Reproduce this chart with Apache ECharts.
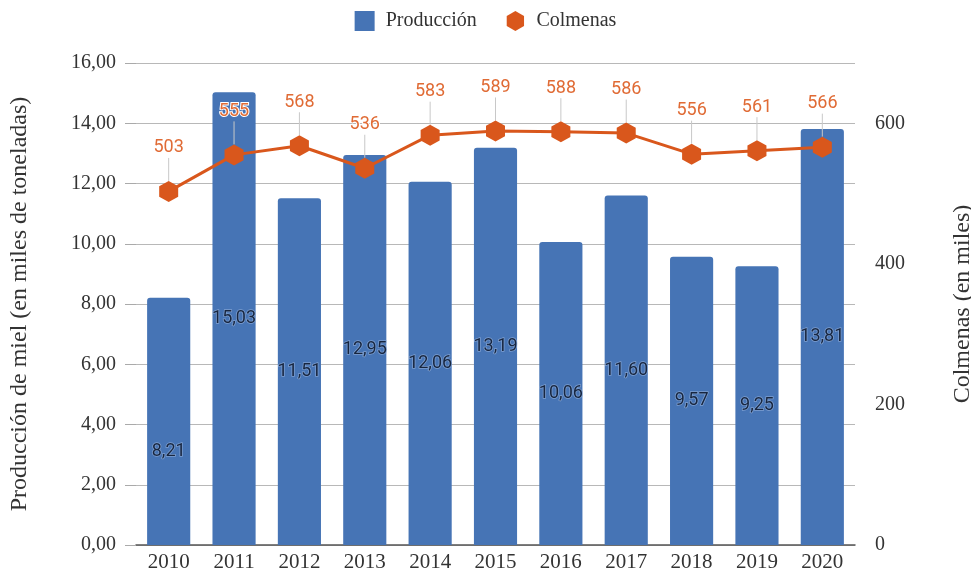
<!DOCTYPE html>
<html>
<head>
<meta charset="utf-8">
<script src="https://cdn.jsdelivr.net/npm/echarts@6/dist/echarts.min.js"></script>
<style>
  html, body { margin: 0; padding: 0; background: #fff; }
  #chart { width: 971px; height: 581px; }
</style>
</head>
<body>
<div id="chart"></div>
<script>
// Honey production (thousand tonnes) and beehives (thousands), 2010–2020
const years = ['2010', '2011', '2012', '2013', '2014', '2015', '2016', '2017', '2018', '2019', '2020'];
const produccion = [8.21, 15.03, 11.51, 12.95, 12.06, 13.19, 10.06, 11.60, 9.57, 9.25, 13.81];
const colmenas = [503, 555, 568, 536, 583, 589, 588, 586, 556, 561, 566];

const BLUE = '#4674b5';
const ORANGE = '#d9571c';
const SERIF = '"Liberation Serif", "DejaVu Serif", serif';
const SANS = 'Roboto, "Noto Sans", sans-serif';
const HEX = 'path://M50,0 L93.3,25 L93.3,75 L50,100 L6.7,75 L6.7,25 Z';

const fmt = v => v.toFixed(2).replace('.', ',');

const barData = produccion.map((v, i) => {
  const item = { value: v };
  if (i === 0) item.label = { offset: [0, 30] };
  return item;
});

const chart = echarts.init(document.getElementById('chart'));
chart.setOption({
  animation: false,
  textStyle: { fontFamily: SERIF },
  legend: {
    top: 6,
    left: 'center',
    itemGap: 30,
    itemWidth: 20,
    itemHeight: 20,
    textStyle: { fontFamily: SERIF, fontSize: 20, color: '#333', padding: [0, 0, 0, 6] },
    data: [
      { name: 'Producción', icon: 'rect' },
      { name: 'Colmenas', icon: HEX }
    ]
  },
  grid: { left: 136, right: 116, top: 63, bottom: 36, outerBoundsMode: 'none', containLabel: false },
  xAxis: {
    type: 'category',
    data: years,
    axisTick: { show: false },
    axisLine: { lineStyle: { color: '#555', width: 1.5 } },
    axisLabel: { fontFamily: SERIF, fontSize: 21, color: '#333', margin: 7 }
  },
  yAxis: [
    {
      type: 'value',
      min: 0, max: 16, interval: 2,
      name: 'Producción de miel (en miles de toneladas)',
      nameLocation: 'middle',
      nameGap: 104,
      nameTextStyle: { fontFamily: SERIF, fontSize: 24, color: '#333' },
      axisLine: { show: false },
      axisTick: { show: true, length: 11, lineStyle: { color: '#aaa' } },
      splitLine: { lineStyle: { color: '#b8b8b8', width: 1.2 } },
      axisLabel: { fontFamily: SERIF, fontSize: 20, color: '#333', margin: 20, formatter: v => fmt(v) }
    },
    {
      type: 'value',
      min: 0, max: 600 * 16 / 14, interval: 200,
      name: 'Colmenas (en miles)',
      nameLocation: 'middle',
      nameGap: 96,
      nameTextStyle: { fontFamily: SERIF, fontSize: 24, color: '#333' },
      axisLine: { show: false },
      axisTick: { show: false },
      splitLine: { show: false },
      axisLabel: { fontFamily: SERIF, fontSize: 20, color: '#333', margin: 20, showMaxLabel: false }
    }
  ],
  series: [
    {
      name: 'Producción',
      type: 'bar',
      yAxisIndex: 0,
      data: barData,
      barCategoryGap: '34%',
      itemStyle: { color: BLUE, borderRadius: [3, 3, 0, 0] },
      label: {
        show: true,
        position: 'inside',
        fontFamily: SANS,
        fontSize: 18,
        color: '#172640',
        textBorderColor: 'rgba(140,170,215,0.8)',
        textBorderWidth: 1.5,
        formatter: p => fmt(p.value)
      },
      z: 2
    },
    {
      name: 'Colmenas',
      type: 'line',
      yAxisIndex: 1,
      data: colmenas,
      symbol: HEX,
      symbolSize: [19, 21],
      lineStyle: { color: ORANGE, width: 3 },
      itemStyle: { color: ORANGE },
      label: {
        show: true,
        position: 'top',
        distance: 4,
        fontFamily: SANS,
        fontSize: 18,
        color: '#e06b35',
        textBorderColor: '#fff',
        textBorderWidth: 2
      },
      labelLayout: { dy: -20 },
      labelLine: { show: true, lineStyle: { color: '#c8c8c8', width: 1 } },
      z: 3
    }
  ]
});
</script>
</body>
</html>
